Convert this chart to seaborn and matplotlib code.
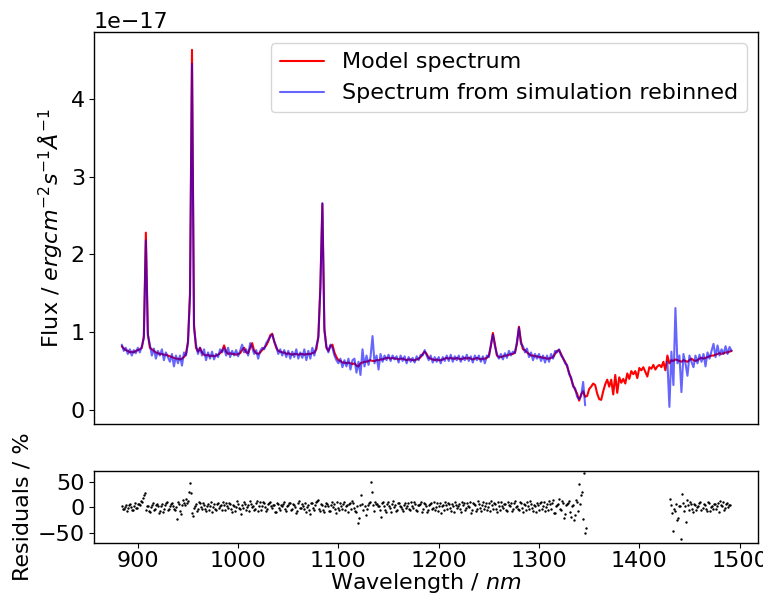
import numpy as np
import matplotlib
matplotlib.use("Agg")
import matplotlib.pyplot as plt
import seaborn as sns

# Wavelength grid (nm), 2 nm sampling
wavelength = [
    884, 886, 888, 890, 892, 894, 896, 898, 900, 902,
    904, 906, 908, 910, 912, 914, 916, 918, 920, 922,
    924, 926, 928, 930, 932, 934, 936, 938, 940, 942,
    944, 946, 948, 950, 952, 954, 956, 958, 960, 962,
    964, 966, 968, 970, 972, 974, 976, 978, 980, 982,
    984, 986, 988, 990, 992, 994, 996, 998, 1000, 1002,
    1004, 1006, 1008, 1010, 1012, 1014, 1016, 1018, 1020, 1022,
    1024, 1026, 1028, 1030, 1032, 1034, 1036, 1038, 1040, 1042,
    1044, 1046, 1048, 1050, 1052, 1054, 1056, 1058, 1060, 1062,
    1064, 1066, 1068, 1070, 1072, 1074, 1076, 1078, 1080, 1082,
    1084, 1086, 1088, 1090, 1092, 1094, 1096, 1098, 1100, 1102,
    1104, 1106, 1108, 1110, 1112, 1114, 1116, 1118, 1120, 1122,
    1124, 1126, 1128, 1130, 1132, 1134, 1136, 1138, 1140, 1142,
    1144, 1146, 1148, 1150, 1152, 1154, 1156, 1158, 1160, 1162,
    1164, 1166, 1168, 1170, 1172, 1174, 1176, 1178, 1180, 1182,
    1184, 1186, 1188, 1190, 1192, 1194, 1196, 1198, 1200, 1202,
    1204, 1206, 1208, 1210, 1212, 1214, 1216, 1218, 1220, 1222,
    1224, 1226, 1228, 1230, 1232, 1234, 1236, 1238, 1240, 1242,
    1244, 1246, 1248, 1250, 1252, 1254, 1256, 1258, 1260, 1262,
    1264, 1266, 1268, 1270, 1272, 1274, 1276, 1278, 1280, 1282,
    1284, 1286, 1288, 1290, 1292, 1294, 1296, 1298, 1300, 1302,
    1304, 1306, 1308, 1310, 1312, 1314, 1316, 1318, 1320, 1322,
    1324, 1326, 1328, 1330, 1332, 1334, 1336, 1338, 1340, 1342,
    1344, 1346, 1348, 1350, 1352, 1354, 1356, 1358, 1360, 1362,
    1364, 1366, 1368, 1370, 1372, 1374, 1376, 1378, 1380, 1382,
    1384, 1386, 1388, 1390, 1392, 1394, 1396, 1398, 1400, 1402,
    1404, 1406, 1408, 1410, 1412, 1414, 1416, 1418, 1420, 1422,
    1424, 1426, 1428, 1430, 1432, 1434, 1436, 1438, 1440, 1442,
    1444, 1446, 1448, 1450, 1452, 1454, 1456, 1458, 1460, 1462,
    1464, 1466, 1468, 1470, 1472, 1474, 1476, 1478, 1480, 1482,
    1484, 1486, 1488, 1490, 1492,
]

# Model spectrum, units of 1e-17 erg cm^-2 s^-1 A^-1
model_flux = [
    0.82, 0.79, 0.77, 0.76, 0.74, 0.75, 0.74, 0.76, 0.77, 0.78,
    0.80, 0.95, 2.28, 0.98, 0.80, 0.78, 0.76, 0.74, 0.73, 0.72,
    0.72, 0.71, 0.71, 0.70, 0.69, 0.68, 0.67, 0.66, 0.66, 0.65,
    0.66, 0.68, 0.72, 0.88, 1.50, 4.63, 1.10, 0.80, 0.75, 0.80,
    0.74, 0.71, 0.70, 0.71, 0.69, 0.70, 0.69, 0.70, 0.71, 0.73,
    0.76, 0.83, 0.75, 0.72, 0.73, 0.72, 0.72, 0.71, 0.72, 0.73,
    0.77, 0.80, 0.74, 0.73, 0.80, 0.86, 0.76, 0.73, 0.72, 0.74,
    0.77, 0.80, 0.83, 0.88, 0.96, 0.98, 0.88, 0.80, 0.76, 0.75,
    0.74, 0.74, 0.72, 0.73, 0.72, 0.71, 0.72, 0.72, 0.71, 0.72,
    0.72, 0.71, 0.72, 0.72, 0.72, 0.73, 0.74, 0.78, 0.95, 1.60,
    2.65, 1.05, 0.80, 0.76, 0.82, 0.84, 0.74, 0.68, 0.64, 0.63,
    0.61, 0.61, 0.60, 0.61, 0.60, 0.59, 0.60, 0.57, 0.56, 0.60,
    0.61, 0.62, 0.62, 0.63, 0.64, 0.63, 0.63, 0.64, 0.64, 0.65,
    0.65, 0.66, 0.67, 0.67, 0.66, 0.67, 0.66, 0.66, 0.65, 0.66,
    0.66, 0.65, 0.64, 0.65, 0.65, 0.64, 0.64, 0.65, 0.66, 0.68,
    0.72, 0.75, 0.72, 0.67, 0.66, 0.65, 0.64, 0.65, 0.64, 0.64,
    0.65, 0.66, 0.67, 0.66, 0.67, 0.66, 0.66, 0.67, 0.66, 0.65,
    0.66, 0.67, 0.66, 0.67, 0.66, 0.65, 0.66, 0.67, 0.66, 0.65,
    0.66, 0.66, 0.67, 0.70, 0.82, 0.99, 0.85, 0.70, 0.68, 0.68,
    0.69, 0.70, 0.70, 0.71, 0.72, 0.72, 0.74, 0.85, 1.07, 0.88,
    0.78, 0.77, 0.74, 0.72, 0.70, 0.70, 0.69, 0.69, 0.68, 0.68,
    0.67, 0.67, 0.66, 0.66, 0.67, 0.68, 0.72, 0.76, 0.77, 0.72,
    0.66, 0.62, 0.56, 0.48, 0.40, 0.32, 0.26, 0.21, 0.12, 0.20,
    0.24, 0.17, 0.18, 0.27, 0.30, 0.34, 0.32, 0.21, 0.14, 0.13,
    0.24, 0.33, 0.39, 0.30, 0.39, 0.20, 0.45, 0.22, 0.42, 0.35,
    0.40, 0.34, 0.47, 0.40, 0.50, 0.46, 0.50, 0.41, 0.54, 0.51,
    0.55, 0.49, 0.43, 0.55, 0.53, 0.58, 0.52, 0.56, 0.58, 0.55,
    0.62, 0.51, 0.70, 0.60, 0.64, 0.63, 0.65, 0.64, 0.63, 0.62,
    0.64, 0.63, 0.62, 0.64, 0.66, 0.64, 0.63, 0.64, 0.66, 0.67,
    0.66, 0.67, 0.68, 0.69, 0.70, 0.70, 0.71, 0.72, 0.73, 0.72,
    0.73, 0.74, 0.74, 0.75, 0.76,
]

# Rebinned simulated spectrum (None = no data), same units
sim_flux = [
    0.84, 0.76, 0.80, 0.72, 0.78, 0.70, 0.77, 0.73, 0.80, 0.74,
    0.82, 0.92, 2.18, 0.96, 0.84, 0.70, 0.79, 0.66, 0.76, 0.70,
    0.78, 0.64, 0.74, 0.68, 0.62, 0.72, 0.56, 0.70, 0.60, 0.70,
    0.57, 0.74, 0.70, 0.86, 1.45, 4.45, 1.05, 0.84, 0.72, 0.80,
    0.70, 0.78, 0.64, 0.74, 0.66, 0.75, 0.65, 0.72, 0.68, 0.78,
    0.74, 0.80, 0.70, 0.80, 0.68, 0.76, 0.70, 0.77, 0.69, 0.76,
    0.84, 0.74, 0.78, 0.70, 0.86, 0.80, 0.72, 0.77, 0.66, 0.76,
    0.80, 0.78, 0.86, 0.90, 0.94, 0.97, 0.88, 0.82, 0.72, 0.78,
    0.70, 0.77, 0.68, 0.76, 0.66, 0.75, 0.68, 0.78, 0.66, 0.74,
    0.67, 0.78, 0.64, 0.76, 0.66, 0.80, 0.70, 0.82, 0.93, 1.55,
    2.66, 1.02, 0.82, 0.74, 0.84, 0.80, 0.70, 0.64, 0.60, 0.66,
    0.55, 0.64, 0.56, 0.66, 0.52, 0.64, 0.66, 0.48, 0.62, 0.45,
    0.78, 0.56, 0.70, 0.58, 0.68, 0.95, 0.60, 0.70, 0.52, 0.72,
    0.62, 0.70, 0.64, 0.71, 0.63, 0.70, 0.65, 0.69, 0.61, 0.70,
    0.63, 0.69, 0.60, 0.68, 0.62, 0.67, 0.61, 0.69, 0.64, 0.71,
    0.70, 0.77, 0.70, 0.64, 0.70, 0.61, 0.68, 0.62, 0.68, 0.60,
    0.68, 0.63, 0.70, 0.63, 0.71, 0.62, 0.69, 0.64, 0.70, 0.62,
    0.69, 0.64, 0.71, 0.63, 0.69, 0.61, 0.70, 0.64, 0.70, 0.62,
    0.69, 0.60, 0.70, 0.68, 0.84, 0.97, 0.82, 0.72, 0.66, 0.72,
    0.65, 0.73, 0.67, 0.76, 0.70, 0.75, 0.73, 0.88, 1.06, 0.85,
    0.82, 0.74, 0.79, 0.68, 0.74, 0.64, 0.72, 0.66, 0.72, 0.63,
    0.70, 0.61, 0.70, 0.62, 0.72, 0.66, 0.76, 0.74, 0.78, 0.70,
    0.67, 0.60, 0.58, 0.46, 0.42, 0.30, 0.28, 0.17, 0.14, 0.18,
    0.36, 0.06, None, None, None, None, None, None, None, None,
    None, None, None, None, None, None, None, None, None, None,
    None, None, None, None, None, None, None, None, None, None,
    None, None, None, None, None, None, None, None, None, None,
    None, None, 0.62, 0.04, 0.75, 0.32, 1.31, 0.60, 0.70, 0.23,
    0.72, 0.60, 0.44, 0.70, 0.62, 0.55, 0.70, 0.60, 0.71, 0.62,
    0.72, 0.56, 0.74, 0.66, 0.76, 0.85, 0.68, 0.83, 0.70, 0.78,
    0.72, 0.82, 0.72, 0.81, 0.76,
]

# Residuals (%) on the even-nm grid
resid_even = [
    2, -4, 5, -1, 6, -6, 3, -2, 7, 4,
    10, 24, -5, 2, -10, 4, -6, 5, 3, -8,
    6, -3, 9, -5, 2, 8, -4, 0, 10, -7,
    5, 8, 17, 12, 47, -12, -2, 6, -4, 9,
    -3, 5, -8, 7, 2, -10, 6, -5, 9, 3,
    -6, 4, 8, -2, 6, -9, 3, 1, 7, -4,
    5, 10, -6, 4, 12, 0, -5, 9, -8, 11,
    3, 8, -7, 6, 10, -2, 4, -9, 7, -6,
    2, 10, -7, 5, 8, -3, 4, -11, 9, -2,
    6, -4, -9, 5, -14, 8, -6, 11, 15, -7,
    4, -10, 8, 3, -8, 10, 6, -12, -1, 9,
    -3, 11, 3, -10, 8, 12, -2, -9, -30, 4,
    6, 2, -4, 9, 50, 5, 11, 7, 3, -19,
    10, -5, 7, 2, -9, 12, 4, -6, 8, 1,
    -7, 9, 3, -4, 11, -2, 6, -8, 5, 10,
    -3, 7, -10, 4, 8, -1, -6, 9, 2, -12,
    5, 10, -4, 7, -8, 3, 11, -2, 6, -9,
    4, -6, 8, 1, -11, 9, 5, -3, 7, -7,
    10, 2, -5, 8, 12, -4, 6, -9, 3, 11,
    -2, 7, -8, 5, 9, -4, 12, 3, -6, 8,
    -10, 4, 10, -3, 6, -7, 2, 9, -5, 11,
    3, -8, 7, 12, -4, 14, -11, 5, 16, -6,
    9, -14, 6, 12, -18, 4, -15, 10, 46, 24,
    -22, -50, None, None, None, None, None, None, None, None,
    None, None, None, None, None, None, None, None, None, None,
    None, None, None, None, None, None, None, None, None, None,
    None, None, None, None, None, None, None, None, None, None,
    None, None, None, None, 5, -47, -8, -25, 3, -62,
    8, 2, 15, -5, 6, -10, 4, 0, 9, -6,
    7, -3, 10, -8, 2, 6, -4, 9, 12, 3,
    -5, 7, 1, 5, None,
]

# Residuals (%) on the odd-nm grid (885 ... 1491)
resid_odd = [
    -3, 0, -7, 4, 1, -5, 8, -2, 6, 12,
    18, 27, 3, -7, 1, 8, -3, 6, -12, 2,
    -9, 4, 11, -4, 7, 3, -5, -22, 6, -13,
    14, 4, 9, 30, 27, -17, 3, -7, 11, 1,
    8, -4, 3, -6, 10, 1, -3, 7, -1, 5,
    10, -5, 2, 9, -3, 5, -7, 12, -1, -13,
    -2, 7, 1, -8, 6, 3, -4, 13, 2, -5,
    11, 0, -4, 9, 2, 5, -10, 8, -1, 4,
    7, -3, 3, 9, -5, 6, 1, -8, 12, -1,
    3, 8, 1, -5, 9, -2, 4, 13, -3, 6,
    -5, 2, 7, -8, 5, 1, -4, 10, -6, 3,
    7, -6, 4, 6, -3, 9, -7, 2, -21, 24,
    -5, -15, 4, 10, 30, -8, 6, 2, -5, 8,
    3, -9, 11, -2, 6, 1, -7, 9, 3, -3,
    5, -1, 8, -6, 2, 10, -5, 4, 7, -9,
    9, 2, -5, 6, -3, 11, 1, -7, 8, 3,
    -6, 4, 9, -2, 7, -10, 5, 2, -4, 10,
    8, -2, 3, 10, -5, 6, -8, 12, -1, 5,
    -4, 9, 1, -7, 5, 8, -3, 10, -6, 2,
    6, -5, 11, 2, -7, 8, 1, -3, 10, -2,
    7, -6, 3, 12, -1, 5, -9, 4, 8, -4,
    10, 1, -6, 6, 9, -12, 3, 7, -3, 13,
    -20, 5, 9, -10, 2, -25, 15, -8, 6, 30,
    67, -41, None, None, None, None, None, None, None, None,
    None, None, None, None, None, None, None, None, None, None,
    None, None, None, None, None, None, None, None, None, None,
    None, None, None, None, None, None, None, None, None, None,
    None, None, None, 17, -12, -3, 6, -20, 2, 26,
    -8, -28, 4, 10, -3, 7, -5, 2, 11, -2,
    4, -7, 8, 1, -4, 6, 3, -9, 5, 10,
    -2, 8, 4, None,
]

FLUX_UNIT = 1e-17

# ---------------------------------------------------------------- styling
sns.set_style("ticks")
plt.rcParams.update({
    "font.family": ["DejaVu Sans"],
    "font.size": 16,
    "axes.labelsize": 16,
    "xtick.labelsize": 16,
    "ytick.labelsize": 16,
    "legend.fontsize": 16,
    "axes.edgecolor": "black",
    "axes.labelcolor": "black",
    "text.color": "black",
    "xtick.color": "black",
    "ytick.color": "black",
    "axes.linewidth": 1.0,
    "xtick.major.size": 3.5,
    "ytick.major.size": 3.5,
    "xtick.major.pad": 2.0,
    "ytick.major.pad": 3.0,
    "mathtext.fontset": "dejavusans",
})

W = np.array(wavelength, dtype=float)
model = np.array(model_flux, dtype=float) * FLUX_UNIT
sim = np.array([np.nan if v is None else v for v in sim_flux], dtype=float) * FLUX_UNIT

fig = plt.figure(figsize=(7.63, 5.96), dpi=100)
ax = fig.add_axes([0.1232, 0.2886, 0.8702, 0.6572])
axr = fig.add_axes([0.1232, 0.0884, 0.8702, 0.1218])

sns.lineplot(x=W, y=model, color="red", lw=1.5, ax=ax,
             label="Model spectrum", sort=False)

# simulated spectrum: draw contiguous pieces so the data gap stays empty
valid = ~np.isnan(sim)
edges = np.flatnonzero(np.diff(np.concatenate([[0], valid.astype(int), [0]])))
first = True
for s, e in zip(edges[0::2], edges[1::2]):
    sns.lineplot(x=W[s:e], y=sim[s:e], color="blue", alpha=0.6, lw=1.5, ax=ax,
                 sort=False,
                 label="Spectrum from simulation rebinned" if first else None)
    first = False

ax.set_xlim(856.3, 1518.3)
ax.set_ylim(-0.18e-17, 4.855e-17)
ax.set_xticks([])
ax.set_xlabel("")
ax.set_yticks(np.array([0, 1, 2, 3, 4]) * FLUX_UNIT)
ax.set_ylabel(r"Flux / $erg cm^{-2} s^{-1} \AA^{-1}$")
ax.legend(loc="upper right", frameon=True)

# residuals
res_even = np.array([np.nan if v is None else v for v in resid_even], dtype=float)
W_odd = np.array([w + 1 for w in wavelength[:-1]], dtype=float)
res_odd = np.array([np.nan if v is None else v for v in resid_odd], dtype=float)
res_x = np.concatenate([W, W_odd])
res_y = np.concatenate([res_even, res_odd])
ok = ~np.isnan(res_y)
sns.scatterplot(x=res_x[ok], y=res_y[ok], color="black", s=3, linewidth=0, ax=axr)
axr.set_xlim(856.3, 1518.3)
axr.set_ylim(-70, 71)
axr.set_yticks([-50, 0, 50])
axr.set_xticks([900, 1000, 1100, 1200, 1300, 1400, 1500])
axr.set_xlabel(r"Wavelength / $nm$", labelpad=0)
axr.set_ylabel("Residuals / %")

fig.savefig("out.png", dpi=100)
